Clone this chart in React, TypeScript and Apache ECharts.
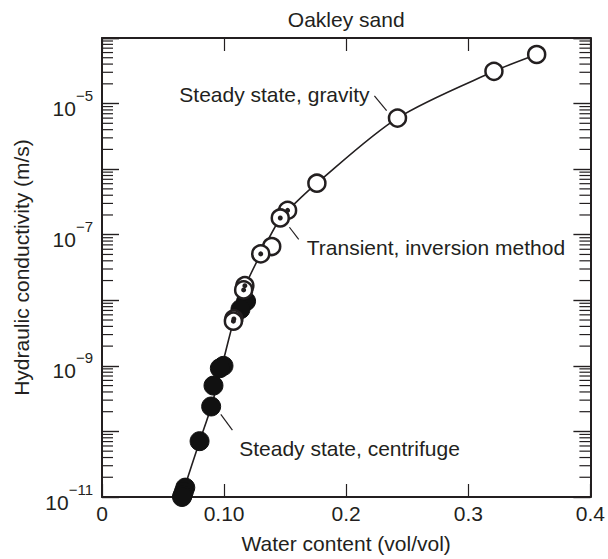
import React, { useEffect, useRef } from "react";
import * as echarts from "echarts";

// Steady state, gravity (open circles): water content, conductivity (m/s)
const GRAVITY_X = [0.356, 0.321, 0.242, 0.176, 0.139];
const GRAVITY_Y = [5.6e-5, 3.1e-5, 6.0e-6, 6.1e-7, 6.6e-8];

// Transient, inversion method (open circle with centre dot)
const TRANSIENT_X = [0.152, 0.146, 0.130, 0.117, 0.116, 0.108, 0.1076];
const TRANSIENT_Y = [2.35e-7, 1.8e-7, 5.1e-8, 1.67e-8, 1.44e-8, 5.2e-9, 4.8e-9];

// Steady state, centrifuge (filled circles)
const CENTRIFUGE_X = [0.118, 0.1134, 0.0995, 0.0965, 0.0913, 0.0894, 0.0799, 0.0682, 0.067, 0.066, 0.0655];
const CENTRIFUGE_Y = [9.7e-9, 7.3e-9, 1.0e-9, 9.2e-10, 5.0e-10, 2.4e-10, 7.1e-11, 1.39e-11, 1.2e-11, 1.06e-11, 1.0e-11];

// Fitted curve
const CURVE_X = [0.065, 0.080, 0.0895, 0.098, 0.108, 0.117, 0.130, 0.146, 0.152, 0.176, 0.242, 0.321, 0.356];
const CURVE_Y = [1.0e-11, 7.1e-11, 2.4e-10, 9.5e-10, 5.0e-9, 1.6e-8, 5.1e-8, 1.8e-7, 2.35e-7, 6.1e-7, 6.0e-6, 3.1e-5, 5.6e-5];

// Axes
const X_MIN = 0;
const X_MAX = 0.4;
const X_TICK_LABELS: Record<string, string> = { "0": "0", "0.1": "0.10", "0.2": "0.2", "0.3": "0.3", "0.4": "0.4" };
const Y_MIN = 1e-11;
const Y_MAX = 1e-4;
const Y_LABEL_EXPONENTS = [-5, -7, -9, -11];
const MINOR_MULTIPLIERS = [2, 3, 4, 5, 6, 7, 8, 9];
const MINOR_DECADES = [-11, -10, -9, -8, -7, -6, -5];

// Annotations
const ANNOT_TEXT = ["Steady state, gravity", "Transient, inversion method", "Steady state, centrifuge"];
const ANNOT_X = [0.0633, 0.1677, 0.1124];
const ANNOT_Y = [1.39e-5, 6.34e-8, 5.45e-11];
const LEADER_FROM = [[0.2231, 1.31e-5], [0.1535, 1.3e-7], [0.0973, 1.82e-10]];
const LEADER_TO = [[0.2331, 7.8e-6], [0.1611, 8.47e-8], [0.1068, 1.05e-10]];

const INK = "#231f20";
const FONT = "'Liberation Sans', Arial, Helvetica, sans-serif";
const FS = 21;

const zip = (xs: number[], ys: number[]) => xs.map((x, i) => [x, ys[i]]);

export default function App() {
  const ref = useRef<HTMLDivElement>(null);
  useEffect(() => {
    document.body.style.margin = "0";
    if (!ref.current) return;
    const chart = echarts.init(ref.current, null, { renderer: "svg" });

    const minorData: number[][] = [];
    MINOR_DECADES.forEach((e) => MINOR_MULTIPLIERS.forEach((m) => minorData.push([X_MIN, m * Math.pow(10, e)])));

    const xAxisBase = {
      type: "value",
      min: X_MIN,
      max: X_MAX,
      interval: 0.1,
      splitLine: { show: false },
      axisLine: { show: true, onZero: false, lineStyle: { color: INK, width: 2 } },
      axisTick: { show: true, inside: true, length: 13, lineStyle: { color: INK, width: 1.2 } },
    };
    const yAxisBase = {
      type: "log",
      logBase: 10,
      min: Y_MIN,
      max: Y_MAX,
      interval: 1,
      splitNumber: 7,
      splitLine: { show: false },
      axisLine: { show: true, onZero: false, lineStyle: { color: INK, width: 2 } },
      axisTick: { show: true, inside: true, length: 17, lineStyle: { color: INK, width: 1.4 } },
    };

    chart.setOption({
      animation: false,
      textStyle: { fontFamily: FONT, color: INK },
      grid: { left: 102, right: 15, top: 38, bottom: 58 },
      xAxis: [
        {
          ...xAxisBase,
          position: "bottom",
          name: "Water content (vol/vol)",
          nameLocation: "middle",
          nameGap: 36,
          nameTextStyle: { fontSize: FS, color: INK, fontFamily: FONT },
          axisLabel: {
            fontSize: FS,
            margin: 6,
            color: INK,
            fontFamily: FONT,
            formatter: (v: number) => X_TICK_LABELS[String(Math.round(v * 10) / 10)] ?? "",
          },
        },
        {
          ...xAxisBase,
          position: "top",
          name: "Oakley sand",
          nameLocation: "middle",
          nameGap: 8,
          nameTextStyle: { fontSize: FS, color: INK, fontFamily: FONT },
          axisLabel: { show: false },
        },
      ],
      yAxis: [
        {
          ...yAxisBase,
          position: "left",
          name: "Hydraulic conductivity (m/s)",
          nameLocation: "middle",
          nameGap: 70,
          nameTextStyle: { fontSize: FS, color: INK, fontFamily: FONT },
          axisLabel: {
            margin: 9,
            formatter: (v: number) => {
              const e = Math.round(Math.log10(v));
              if (!Y_LABEL_EXPONENTS.includes(e)) return "";
              return "{b|10}{s|\u2212" + Math.abs(e) + "}";
            },
            rich: {
              b: { fontSize: FS, fontFamily: FONT, color: INK, verticalAlign: "bottom", lineHeight: 31 },
              s: { fontSize: 15, fontFamily: FONT, color: INK, verticalAlign: "top", lineHeight: 31 },
            },
          },
        },
        {
          ...yAxisBase,
          position: "right",
          axisLabel: { show: false },
        },
      ],
      series: [
        {
          type: "custom",
          name: "minorTicks",
          silent: true,
          clip: false,
          data: minorData,
          encode: { x: 0, y: 1 },
          renderItem: (_p: any, api: any) => {
            const v = api.value(1);
            const pl = api.coord([X_MIN, v]);
            const pr = api.coord([X_MAX, v]);
            const st = { stroke: INK, lineWidth: 1.2 };
            return {
              type: "group",
              children: [
                { type: "line", shape: { x1: pl[0], y1: pl[1], x2: pl[0] + 11, y2: pl[1] }, style: st },
                { type: "line", shape: { x1: pr[0] - 11, y1: pr[1], x2: pr[0], y2: pr[1] }, style: st },
              ],
            };
          },
          z: 1,
        },
        {
          type: "line",
          name: "curve",
          data: zip(CURVE_X, CURVE_Y),
          smooth: 0.3,
          showSymbol: false,
          symbol: "none",
          lineStyle: { color: INK, width: 1.6 },
          silent: true,
          z: 2,
          markLine: {
            silent: true,
            symbol: "none",
            label: { show: false },
            lineStyle: { color: INK, width: 1.2, type: "solid" },
            data: LEADER_FROM.map((f, i) => [{ coord: f }, { coord: LEADER_TO[i] }]),
          },
        },
        {
          type: "scatter",
          name: "Steady state, centrifuge",
          data: zip(CENTRIFUGE_X, CENTRIFUGE_Y),
          symbol: "circle",
          symbolSize: 19,
          clip: false,
          itemStyle: { color: "#111", borderColor: "#111", borderWidth: 1, opacity: 1 },
          z: 3,
        },
        {
          type: "scatter",
          name: "Steady state, gravity",
          data: zip(GRAVITY_X, GRAVITY_Y),
          symbol: "circle",
          symbolSize: 17,
          clip: false,
          itemStyle: { color: "#fff", borderColor: INK, borderWidth: 2.5, opacity: 1 },
          z: 4,
        },
        {
          type: "scatter",
          name: "Transient, inversion method",
          data: zip(TRANSIENT_X, TRANSIENT_Y),
          symbol: "circle",
          symbolSize: 17,
          clip: false,
          itemStyle: { color: "#fff", borderColor: INK, borderWidth: 2.5, opacity: 1 },
          z: 5,
        },
        {
          type: "scatter",
          name: "transientDot",
          data: zip(TRANSIENT_X, TRANSIENT_Y),
          symbol: "circle",
          symbolSize: 5,
          clip: false,
          itemStyle: { color: INK, opacity: 1 },
          z: 6,
        },
        {
          type: "scatter",
          name: "annotations",
          data: ANNOT_TEXT.map((t, i) => ({ value: [ANNOT_X[i], ANNOT_Y[i]], name: t })),
          symbolSize: 0,
          silent: true,
          itemStyle: { opacity: 1 },
          label: {
            show: true,
            position: "inside",
            align: "left",
            verticalAlign: "middle",
            fontSize: FS,
            fontFamily: FONT,
            color: INK,
            opacity: 1,
            formatter: (p: any) => p.name,
          },
          z: 7,
        },
      ],
    });
    return () => chart.dispose();
  }, []);
  return <div ref={ref} style={{ width: 608, height: 559 }} />;
}
